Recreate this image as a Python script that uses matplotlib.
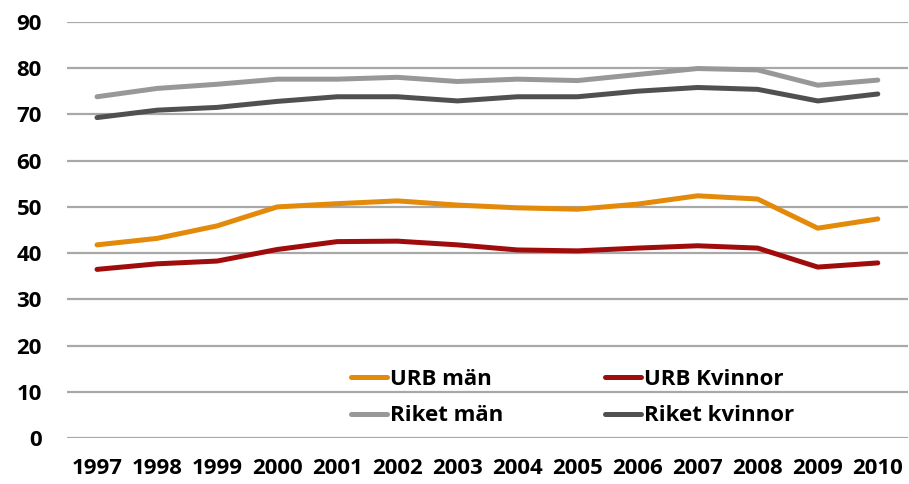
import matplotlib
matplotlib.use("Agg")
import matplotlib.pyplot as plt

years = ["1997", "1998", "1999", "2000", "2001", "2002", "2003",
         "2004", "2005", "2006", "2007", "2008", "2009", "2010"]
urb_man = [41.8, 43.2, 45.9, 50.0, 50.7, 51.3, 50.4, 49.8, 49.5, 50.6, 52.4, 51.7, 45.4, 47.4]
urb_kvinnor = [36.5, 37.7, 38.3, 40.8, 42.5, 42.6, 41.8, 40.7, 40.5, 41.1, 41.6, 41.1, 37.0, 37.9]
riket_man = [73.8, 75.6, 76.5, 77.6, 77.6, 78.0, 77.1, 77.6, 77.3, 78.6, 79.9, 79.6, 76.3, 77.4]
riket_kvinnor = [69.3, 70.9, 71.5, 72.8, 73.8, 73.8, 72.9, 73.8, 73.8, 75.0, 75.8, 75.4, 72.9, 74.4]

plt.rcParams['font.family'] = ['Open Sans', 'DejaVu Sans']
plt.rcParams['font.weight'] = 'bold'

fig = plt.figure(figsize=(9.09, 4.84), dpi=100)
ax = fig.add_axes([0.0737, 0.0944, 0.925, 0.8606])

x = list(range(len(years)))
l1, = ax.plot(x, urb_man, color="#E38A0A", lw=3.6, solid_capstyle="round", label="URB män")
l2, = ax.plot(x, urb_kvinnor, color="#A00C0C", lw=3.6, solid_capstyle="round", label="URB Kvinnor")
l3, = ax.plot(x, riket_man, color="#989898", lw=3.6, solid_capstyle="round", label="Riket män")
l4, = ax.plot(x, riket_kvinnor, color="#505050", lw=3.6, solid_capstyle="round", label="Riket kvinnor")

ax.set_ylim(0, 90)
ax.set_xlim(-0.5, len(years) - 0.5)
ax.set_yticks(range(0, 91, 10))
ax.set_xticks(x)
ax.set_xticklabels(years)
ax.yaxis.grid(True, color="#A8A8A8", lw=1.6)
ax.set_axisbelow(True)
for s in ax.spines.values():
    s.set_visible(False)
ax.tick_params(axis="both", length=0, labelsize=16)
ax.tick_params(axis="y", pad=18)
ax.tick_params(axis="x", pad=14)

ax.legend([l1, l3, l2, l4], ["URB män", "Riket män", "URB Kvinnor", "Riket kvinnor"],
          ncol=2, frameon=False, loc="upper left", bbox_to_anchor=(0.374, 0.26),
          bbox_transform=fig.transFigure, borderpad=0, handlelength=1.6,
          handletextpad=0.15, columnspacing=4.6, labelspacing=0.68, fontsize=16)

fig.savefig("out.png", dpi=100)
